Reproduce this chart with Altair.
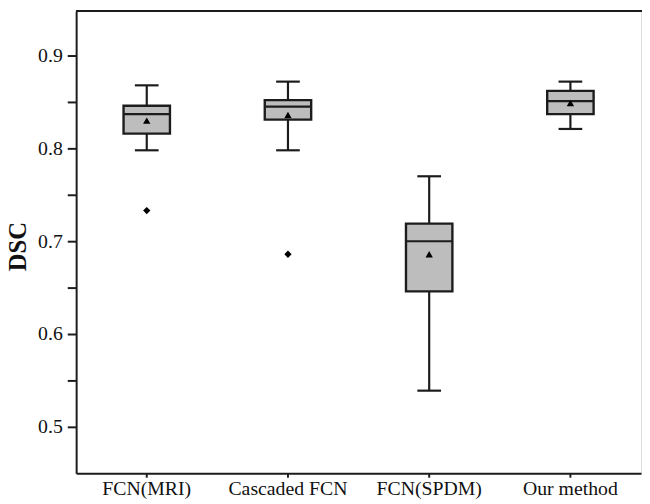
import altair as alt
import pandas as pd

# Box statistics
methods = ["FCN(MRI)", "Cascaded FCN", "FCN(SPDM)", "Our method"]
lower = [0.798, 0.798, 0.539, 0.821]
q1 = [0.816, 0.831, 0.646, 0.837]
median = [0.837, 0.845, 0.700, 0.851]
q3 = [0.846, 0.852, 0.719, 0.862]
upper = [0.868, 0.872, 0.770, 0.872]
mean = [0.830, 0.836, 0.686, 0.849]

outlier_method = ["FCN(MRI)", "Cascaded FCN"]
outlier_value = [0.733, 0.686]

y_ticks = [0.5, 0.55, 0.6, 0.65, 0.7, 0.75, 0.8, 0.85, 0.9]

df = pd.DataFrame({"method": methods, "lower": lower, "q1": q1, "median": median,
                   "q3": q3, "upper": upper, "mean": mean})
df_out = pd.DataFrame({"method": outlier_method, "value": outlier_value})

W, H = 572, 468
INK = "#1c1c1c"
FILL = "#bdbdbd"
FONT = "Liberation Serif"

xenc = alt.X("method:N", sort=methods, title="",
             scale=alt.Scale(paddingInner=0, paddingOuter=0),
             axis=alt.Axis(labelAngle=0, labelFont=FONT, labelFontSize=20, labelColor="#111",
                           domainColor=INK, domainWidth=2, tickColor=INK, tickWidth=2,
                           tickSize=4, labelPadding=2))
yscale = alt.Scale(domain=[0.45, 0.948], nice=False, zero=False)
yaxis = alt.Axis(values=y_ticks, grid=False, title="DSC", titleFont=FONT, titleFontSize=25,
                 titleFontWeight="bold", titleColor="#111",
                 titleX=-71, titleY=238, titleAngle=270, titleBaseline="top", titleAlign="center",
                 labelFont=FONT, labelFontSize=20, labelColor="#111",
                 labelExpr="abs(datum.value*10 - round(datum.value*10)) < 0.01 ? format(datum.value, '.1f') : ''",
                 domainColor=INK, domainWidth=2, tickColor=INK, tickWidth=2, tickSize=9,
                 labelPadding=5)

base = alt.Chart(df)

upper_whisker = base.mark_rule(color=INK, strokeWidth=2.2).encode(
    x=xenc, y=alt.Y("q3:Q", scale=yscale, axis=yaxis), y2="upper:Q")
lower_whisker = base.mark_rule(color=INK, strokeWidth=2.2).encode(
    x=xenc, y=alt.Y("lower:Q", scale=yscale, axis=yaxis), y2="q1:Q")
box = base.mark_bar(size=47, fill=FILL, stroke=INK, strokeWidth=2.4).encode(
    x=xenc, y=alt.Y("q1:Q", scale=yscale, axis=yaxis), y2="q3:Q")
med = base.mark_tick(size=47, thickness=2.2, color=INK, opacity=1).encode(
    x=xenc, y=alt.Y("median:Q", scale=yscale, axis=yaxis))
cap_hi = base.mark_tick(size=24, thickness=2.2, color=INK, opacity=1).encode(
    x=xenc, y=alt.Y("upper:Q", scale=yscale, axis=yaxis))
cap_lo = base.mark_tick(size=24, thickness=2.2, color=INK, opacity=1).encode(
    x=xenc, y=alt.Y("lower:Q", scale=yscale, axis=yaxis))
mean_pt = base.mark_point(shape="triangle-up", filled=True, size=55, color="#000", opacity=1).encode(
    x=xenc, y=alt.Y("mean:Q", scale=yscale, axis=yaxis))
outl = alt.Chart(df_out).mark_point(shape="diamond", filled=True, size=55, color="#000", opacity=1).encode(
    x=xenc, y=alt.Y("value:Q", scale=yscale, axis=yaxis))
top_border = alt.Chart(df).mark_rule(color=INK, strokeWidth=2).encode(
    x=alt.value(0), x2=alt.value(W + 1), y=alt.value(0), y2=alt.value(0))

chart = alt.layer(upper_whisker, lower_whisker, box, med, cap_hi, cap_lo, mean_pt, outl, top_border).properties(
    width=W, height=H,
    autosize=alt.AutoSizeParams(type="none"),
    padding={"left": 69, "top": 0, "right": 1, "bottom": 28},
).configure_view(strokeWidth=0, stroke="transparent").configure(background="white")

chart.save("out.html", embed_options={"renderer": "svg", "actions": False})
